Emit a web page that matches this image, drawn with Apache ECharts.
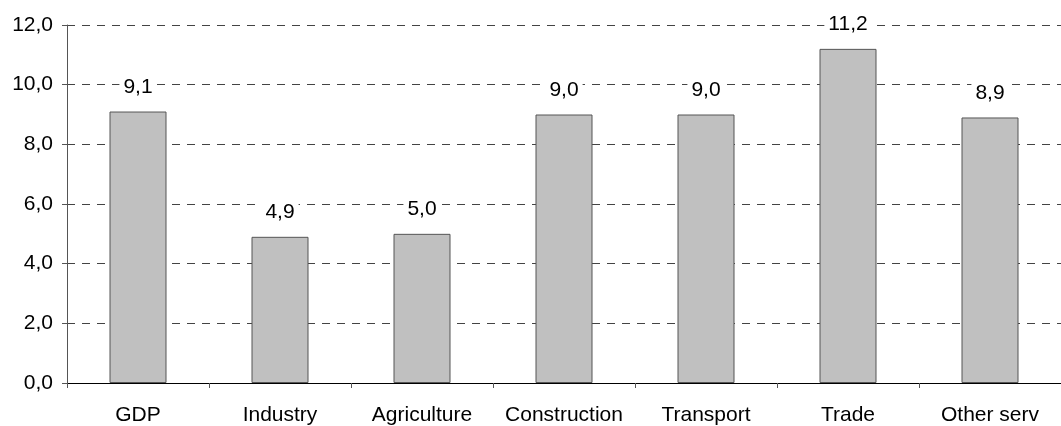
<!DOCTYPE html>
<html><head><meta charset="utf-8">
<script src="https://cdn.jsdelivr.net/npm/echarts@6/dist/echarts.min.js"></script>
<style>html,body{margin:0;padding:0;background:#fff}#c{width:1061px;height:426px}</style>
</head><body><div id="c"></div>
<script>
const categories = ['GDP','Industry','Agriculture','Construction','Transport','Trade','Other serv'];
const values = [9.1, 4.9, 5.0, 9.0, 9.0, 11.2, 8.9];
const yTicks = [0, 2, 4, 6, 8, 10, 12];
const fmt = v => v.toFixed(1).replace('.', ',');
const chart = echarts.init(document.getElementById('c'), null, {renderer:'canvas'});
chart.setOption({
  animation:false,
  backgroundColor:'#fff',
  textStyle:{fontFamily:'Liberation Sans, Arial, sans-serif'},
  grid:{left:67, top:25, bottom:42, width:1008},
  xAxis:{type:'category', data:categories,
    axisLine:{lineStyle:{color:'#000', width:1}},
    axisTick:{show:true, length:5, interval:0, lineStyle:{color:'#555'}},
    axisLabel:{color:'#000', fontSize:21, margin:22, interval:0, fontFamily:'Liberation Sans'}},
  yAxis:{type:'value', min:yTicks[0], max:yTicks[yTicks.length-1], interval:2,
    axisLine:{show:true, lineStyle:{color:'#555'}},
    axisTick:{show:true, length:5, lineStyle:{color:'#555'}},
    axisLabel:{color:'#000', fontSize:21, margin:14, formatter:fmt, fontFamily:'Liberation Sans'},
    splitLine:{show:true, lineStyle:{color:'#444', type:[8,7], width:1}}},
  series:[{type:'bar', data:values, barWidth:57,
    itemStyle:{color:'#c0c0c0', borderColor:'#555', borderWidth:1},
    label:{show:true, position:'top', distance:14, color:'#000', fontSize:21,
      backgroundColor:'#fff', padding:[0,4],
      fontFamily:'Liberation Sans', formatter:p=>fmt(p.value)}}]
});
</script></body></html>
